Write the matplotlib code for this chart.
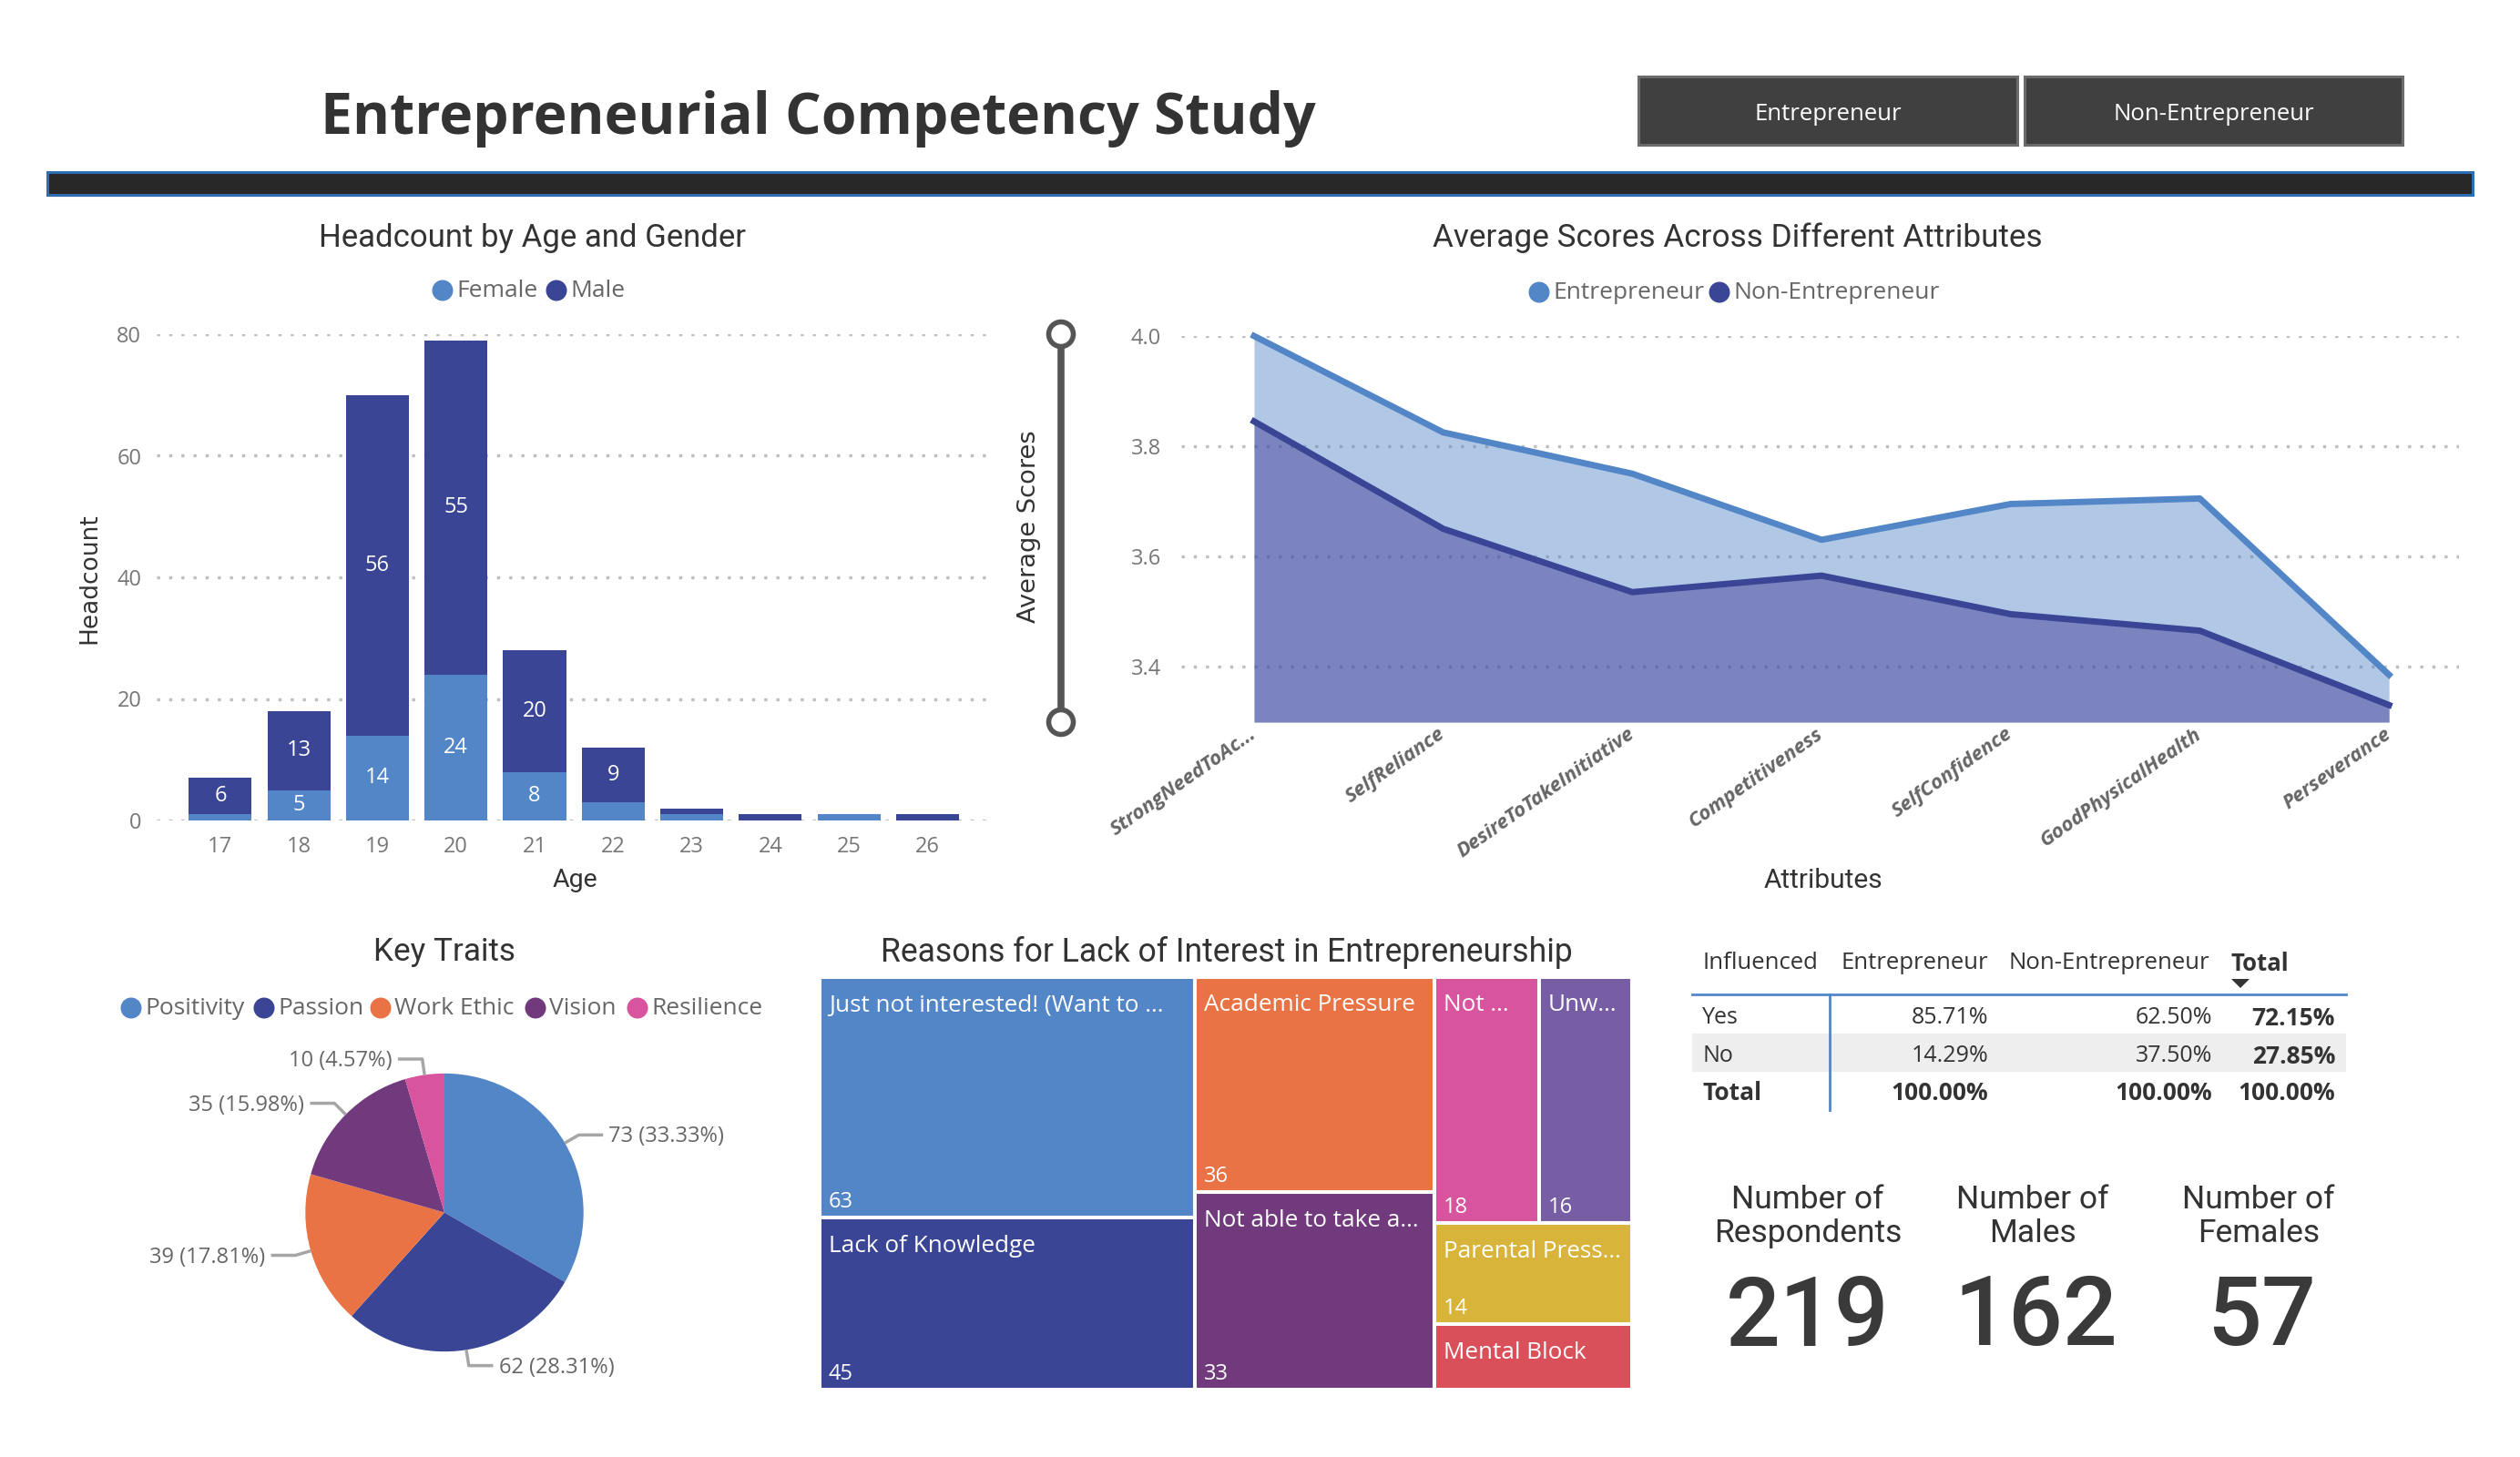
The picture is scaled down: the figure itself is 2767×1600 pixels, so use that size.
import numpy as np
import matplotlib
matplotlib.use('Agg')
import matplotlib.pyplot as plt
from matplotlib.patches import Rectangle, Ellipse, Polygon
from matplotlib.transforms import ScaledTranslation

# ---- data ----
ages = [17, 18, 19, 20, 21, 22, 23, 24, 25, 26]
female = [1, 5, 14, 24, 8, 3, 1, 0, 1, 0]
male = [6, 13, 56, 55, 20, 9, 1, 1, 0, 1]

attributes = ['StrongNeedToAc...', 'SelfReliance', 'DesireToTakeInitiative', 'Competitiveness',
              'SelfConfidence', 'GoodPhysicalHealth', 'Perseverance']
entrepreneur = [4.0, 3.825, 3.75, 3.63, 3.695, 3.705, 3.385]
non_entrepreneur = [3.845, 3.65, 3.535, 3.565, 3.495, 3.465, 3.33]

traits = ['Positivity', 'Passion', 'Work Ethic', 'Vision', 'Resilience']
trait_counts = [73, 62, 39, 35, 10]
trait_labels = ['73 (33.33%)', '62 (28.31%)', '39 (17.81%)', '35 (15.98%)', '10 (4.57%)']

# treemap, one inner list per column
reason_columns = [
    [['Just not interested! (Want to ...', 'Lack of Knowledge'], [63, 45]],
    [['Academic Pressure', 'Not able to take a...'], [36, 33]],
]
reason_small = ['Not ...', 'Unw...', 'Parental Press...', 'Mental Block']
reason_small_vals = [18, 16, 14, 9]

table_header = ['Influenced', 'Entrepreneur', 'Non-Entrepreneur', 'Total']
table_rows = [['Yes', '85.71%', '62.50%', '72.15%'],
              ['No', '14.29%', '37.50%', '27.85%'],
              ['Total', '100.00%', '100.00%', '100.00%']]

card_titles = ['Number of\nRespondents', 'Number of\nMales', 'Number of\nFemales']
card_values = ['219', '162', '57']

# ---- colours and fonts ----
BLUE = '#5386C7'
NAVY = '#3A4595'
NAVY_FILL = '#3F3594'
ORANGE = '#E97344'
PURPLE = '#703A7C'
PINK = '#D9549E'
SLATE = '#765DA4'
YELLOW = '#D9B43A'
RED = '#D94F5A'
DARK = '#333333'
GREY = '#666666'
BODY = 'Open Sans'
HEAD = 'Roboto'
DOT = (0, (1, 3))

W, H = 2767, 1600
plt.rcParams['font.family'] = [BODY, 'DejaVu Sans']
fig = plt.figure(figsize=(W / 100, H / 100), dpi=100, facecolor='white')

# full size axes in pixel coordinates for headers, legends and cards
bg = fig.add_axes([0, 0, 1, 1])
bg.set_xlim(0, W)
bg.set_ylim(H, 0)
bg.axis('off')


def px_axes(left, top, right, bottom):
    ax = fig.add_axes([left / W, 1 - bottom / H, (right - left) / W, (bottom - top) / H])
    ax.patch.set_alpha(0)
    for s in ax.spines.values():
        s.set_visible(False)
    return ax


def label(x, y, s, size=17, color=GREY, ha='center', va='center', family=BODY, **kw):
    return bg.text(x, y, s, fontsize=size, color=color, ha=ha, va=va, family=family, **kw)


def legend_dot(x, y, color, name, size=19):
    bg.add_patch(Ellipse((x, y), 23, 23, color=color, lw=0))
    label(x + 15, y, name, size=size, ha='left', color=GREY)


# ---- header ----
label(898, 130, 'Entrepreneurial Competency Study', size=45, color=DARK, weight='bold')
bg.add_patch(Rectangle((51.5, 188.5), 2663, 25, fc='#282828', ec='#2E6DB4', lw=2.2))
for x0, x1, txt in [(1799, 2215, 'Entrepreneur'), (2223, 2638, 'Non-Entrepreneur')]:
    bg.add_patch(Rectangle((x0, 84), x1 - x0, 75, fc='#404040', ec='#6B6B6B', lw=2.2))
    label((x0 + x1) / 2, 125, txt, size=18.5, color='white')

# ---- stacked bars ----
ax = px_axes(172, 367, 1090, 901)
x = np.arange(len(ages))
ax.bar(x, female, width=0.8, color=BLUE, zorder=3)
ax.bar(x, male, width=0.8, bottom=female, color=NAVY, zorder=3)
ax.set_xlim(-0.81, len(ages) - 1 + 0.83)
ax.set_ylim(0, 80)
ax.set_yticks([0, 20, 40, 60, 80])
ax.set_xticks(x, ages)
ax.grid(axis='y', color='#BDBDBD', lw=2.4, linestyle=DOT)
ax.set_axisbelow(True)
ax.tick_params(length=0, labelsize=17, labelcolor='#777777', pad=12)
ax.tick_params(axis='y', pad=12)
for i in x:
    if female[i] >= 5:
        ax.text(i, female[i] / 2, str(female[i]), color='white', ha='center', va='center', fontsize=17, zorder=4)
    if male[i] >= 5:
        ax.text(i, female[i] + male[i] / 2, str(male[i]), color='white', ha='center', va='center', fontsize=17, zorder=4)

label(585, 261, 'Headcount by Age and Gender', size=25, color=DARK, family=HEAD)
legend_dot(486, 319, BLUE, 'Female')
legend_dot(611, 319, NAVY, 'Male')
label(98, 635, 'Headcount', size=19, color=DARK, rotation=90, family='DejaVu Sans')
label(631, 967, 'Age', size=20.5, color=DARK, family=HEAD)

# ---- area chart ----
ax = px_axes(1297, 369, 2700, 793)
x = np.arange(len(attributes))
ax.fill_between(x, 3.299, entrepreneur, color=BLUE, alpha=0.46, lw=0, zorder=2)
ax.fill_between(x, 3.299, non_entrepreneur, color=NAVY_FILL, alpha=0.46, lw=0, zorder=3)
ax.plot(x, entrepreneur, color=BLUE, lw=5, zorder=4, clip_on=False)
ax.plot(x, non_entrepreneur, color=NAVY, lw=5, zorder=5, clip_on=False)
ax.set_xlim(-0.385, 6.37)
ax.set_ylim(3.299, 4.0)
ax.set_yticks([3.4, 3.6, 3.8, 4.0], ['3.4', '3.6', '3.8', '4.0'])
ax.set_xticks(x)
ax.set_xticklabels(attributes, rotation=35, ha='right', va='center', rotation_mode='anchor',
                   style='italic', weight='bold', fontsize=16, color=GREY)
shift = ScaledTranslation(-4 / 100, 0, fig.dpi_scale_trans)
for t in ax.get_xticklabels():
    t.set_transform(t.get_transform() + shift)
ax.grid(axis='y', color='#BDBDBD', lw=2.4, linestyle=DOT)
ax.set_axisbelow(True)
ax.tick_params(length=0, pad=8)
ax.tick_params(axis='y', labelsize=17, labelcolor='#777777', pad=16)

label(1908, 261, 'Average Scores Across Different Attributes', size=25.3, color=DARK, family=HEAD)
legend_dot(1690, 321, BLUE, 'Entrepreneur')
legend_dot(1888, 321, NAVY, 'Non-Entrepreneur')
label(1130, 578, 'Average Scores', size=19.6, color=DARK, rotation=90, family='DejaVu Sans')
label(2002, 967, 'Attributes', size=21.5, color=DARK, family=HEAD)

# range slider next to the area chart
bg.plot([1165, 1165], [367, 793], color='#555555', lw=5.5, zorder=1)
for y in (367, 793):
    bg.add_patch(Ellipse((1165, y), 27, 27, fc='white', ec='#555555', lw=4, zorder=2))

# ---- pie ----
pie_cx, pie_cy, pie_r = 488, 1331.5, 152.7
half = 400
ax = px_axes(pie_cx - half, pie_cy - half, pie_cx + half, pie_cy + half)
pie_colors = [BLUE, NAVY, ORANGE, PURPLE, PINK]
wedges, _ = ax.pie(trait_counts, colors=pie_colors, startangle=90, counterclock=False,
                   radius=pie_r, wedgeprops={'lw': 0})
ax.set_xlim(-half, half)
ax.set_ylim(-half, half)
ax.set_aspect('equal')
for w, txt in zip(wedges, trait_labels):
    a = np.deg2rad((w.theta1 + w.theta2) / 2)
    ca, sa = np.cos(a), np.sin(a)
    xe, ye = 1.115 * pie_r * ca, 1.115 * pie_r * sa
    side = 1 if ca > 0 else -1
    ax.plot([pie_r * 1.01 * ca, xe, xe + side * 25], [pie_r * 1.01 * sa, ye, ye], color='#A6A6A6', lw=2.5, clip_on=False)
    ax.text(xe + side * 33, ye - 2, txt, ha='left' if side > 0 else 'right', va='center',
            fontsize=17, color=GREY, clip_on=False)

label(488, 1046, 'Key Traits', size=25.3, color=DARK, family=HEAD)
for lx, name, col in zip([144, 290, 418, 588, 700], traits, pie_colors):
    legend_dot(lx, 1107, col, name)

# ---- treemap ----
ax = px_axes(900, 1073, 1792, 1526)
columns_total = sum(sum(v) for _, v in reason_columns) + sum(reason_small_vals)
ax.set_xlim(0, columns_total)
ax.set_ylim(1, 0)
ax.axis('off')
GAP = 2.9


def cell(x0, w, y0, h, color, name, val, show_val=True):
    ax.bar(x0, h, width=w, bottom=y0, align='edge', color=color, edgecolor='white', lw=GAP)
    xt = x0 + 10 * columns_total / 892
    ax.text(xt, y0 + 31 / 453, name, color='white', fontsize=18.8, ha='left', va='center', clip_on=True)
    if show_val:
        ax.text(xt, y0 + h - 17 / 453, str(val), color='white', fontsize=17, ha='left', va='center')


column_colors = [[BLUE, NAVY], [ORANGE, PURPLE]]
x0 = 0
for (names, vals), cols in zip(reason_columns, column_colors):
    w = sum(vals)
    y0 = 0
    for name, val, col in zip(names, vals, cols):
        cell(x0, w, y0, val / w, col, name, val)
        y0 += val / w
    x0 += w

# third column: two side by side on top, two stacked below
w = sum(reason_small_vals)
top_vals = reason_small_vals[:2]
top_h = sum(top_vals) / w
cell(x0, top_vals[0] / sum(top_vals) * w, 0, top_h, PINK, reason_small[0], top_vals[0])
cell(x0 + top_vals[0] / sum(top_vals) * w, top_vals[1] / sum(top_vals) * w, 0, top_h, SLATE, reason_small[1], top_vals[1])
h_par = reason_small_vals[2] / w
cell(x0, w, top_h, h_par, YELLOW, reason_small[2], reason_small_vals[2])
cell(x0, w, top_h + h_par, reason_small_vals[3] / w, RED, reason_small[3], reason_small_vals[3], show_val=False)

label(1347, 1046, 'Reasons for Lack of Interest in Entrepreneurship', size=25.6, color=DARK, family=HEAD)

# ---- table ----
header_left = [1869, 2021, 2205, 2450]
for lx, name in zip(header_left, table_header):
    label(lx, 1058, name, size=18.5, ha='left', color=DARK, weight='bold' if name == 'Total' else 'normal')
bg.add_patch(Polygon([[2450, 1075], [2470, 1075], [2460, 1085]], color=DARK, lw=0))
bg.add_patch(Rectangle((1858, 1135), 718, 42, color='#EEEEEE', lw=0, zorder=0))
bg.plot([1858, 2576], [1092, 1092], color=BLUE, lw=2)
bg.plot([2009, 2009], [1092, 1219], color=BLUE, lw=2)
col_right = [2183, 2429, 2564]
for row, y in zip(table_rows, [1118, 1160, 1201]):
    is_total = row[0] == 'Total'
    label(1869, y, row[0], size=19 if is_total else 18, ha='left', color=DARK, weight='bold' if is_total else 'normal')
    for j, rx in enumerate(col_right):
        bold = is_total or j == 2
        label(rx, y, row[j + 1], size=19 if bold else 18, ha='right', color=DARK, weight='bold' if bold else 'normal')

# ---- cards ----
for cx, vx, title, val in zip([1985, 2232, 2480], [1985, 2235, 2483], card_titles, card_values):
    label(cx, 1336, title, size=25.5, color=DARK, family=HEAD, linespacing=1.15)
    label(vx, 1449, val, size=76, color='#3A3A3A', family=HEAD, weight='medium')

fig.savefig('out.png', dpi=100, facecolor='white')
